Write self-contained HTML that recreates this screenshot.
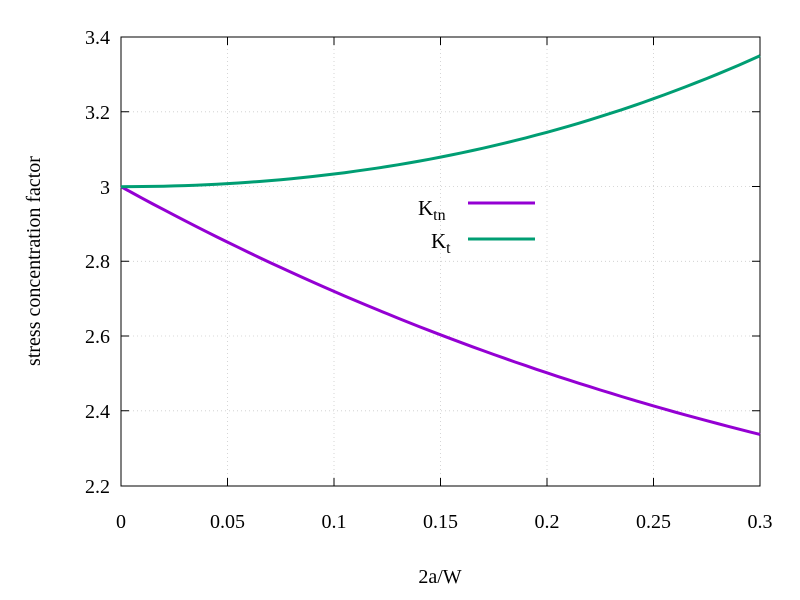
<!DOCTYPE html>
<html><head><meta charset="utf-8"><style>body{margin:0;background:#fff}svg{display:block}</style></head><body>
<svg width="800" height="600" xmlns="http://www.w3.org/2000/svg" font-family="Liberation Serif, serif" font-size="20">
<rect width="800" height="600" fill="#fff"/>
<g stroke="#ccc" stroke-width="0.8" stroke-dasharray="1,3">
<line x1="227.5" y1="37" x2="227.5" y2="486"/><line x1="334" y1="37" x2="334" y2="486"/><line x1="440.5" y1="37" x2="440.5" y2="486"/><line x1="547" y1="37" x2="547" y2="486"/><line x1="653.5" y1="37" x2="653.5" y2="486"/>
<line x1="121" y1="111.8" x2="760" y2="111.8"/><line x1="121" y1="186.5" x2="760" y2="186.5"/><line x1="121" y1="261.3" x2="760" y2="261.3"/><line x1="121" y1="336" x2="760" y2="336"/><line x1="121" y1="410.8" x2="760" y2="410.8"/>
</g>
<g stroke="#000" stroke-width="1">
<rect x="121" y="37" width="639" height="449" fill="none"/>
<path d="M121 111.8h8M121 186.5h8M121 261.3h8M121 336h8M121 410.8h8M760 111.8h-8M760 186.5h-8M760 261.3h-8M760 336h-8M760 410.8h-8M227.5 486v-8M334 486v-8M440.5 486v-8M547 486v-8M653.5 486v-8M227.5 37v8M334 37v8M440.5 37v8M547 37v8M653.5 37v8"/>
</g>
<g text-anchor="end">
<text x="110" y="44">3.4</text><text x="110" y="119">3.2</text><text x="110" y="194">3</text><text x="110" y="268">2.8</text><text x="110" y="343">2.6</text><text x="110" y="418">2.4</text><text x="110" y="493">2.2</text>
</g>
<g text-anchor="middle">
<text x="121" y="528">0</text><text x="227.5" y="528">0.05</text><text x="334" y="528">0.1</text><text x="440.5" y="528">0.15</text><text x="547" y="528">0.2</text><text x="653.5" y="528">0.25</text><text x="760" y="528">0.3</text>
<text x="440" y="583">2a/W</text>
<text transform="translate(40,261) rotate(-90)">stress concentration factor</text>
</g>
<path id="ktn" fill="none" stroke="#9400d3" stroke-width="3" d=""/>
<path id="kt" fill="none" stroke="#009e73" stroke-width="3" d=""/>
<text x="418" y="215" font-size="21">K<tspan font-size="16" dy="5">tn</tspan></text>
<text x="431" y="248" font-size="21">K<tspan font-size="16" dy="5">t</tspan></text>
<line x1="468" y1="203" x2="535" y2="203" stroke="#9400d3" stroke-width="3"/>
<line x1="468" y1="239" x2="535" y2="239" stroke="#009e73" stroke-width="3"/>
<script>
var a="",b="";
for(var i=0;i<=60;i++){var r=0.3*i/60;var k=3-3.14*r+3.667*r*r-1.527*r*r*r-0.1*r*r;var kt=3+3.13*r*r+2.52*r*r*r;
var x=121+r*639/0.3;var y1=486-(k-2.2)*449/1.2;var y2=486-(kt-2.2)*449/1.2;
a+=(i?"L":"M")+x.toFixed(1)+" "+y1.toFixed(1);b+=(i?"L":"M")+x.toFixed(1)+" "+y2.toFixed(1);}
document.getElementById("ktn").setAttribute("d",a);document.getElementById("kt").setAttribute("d",b);
</script>
</svg>
</body></html>
